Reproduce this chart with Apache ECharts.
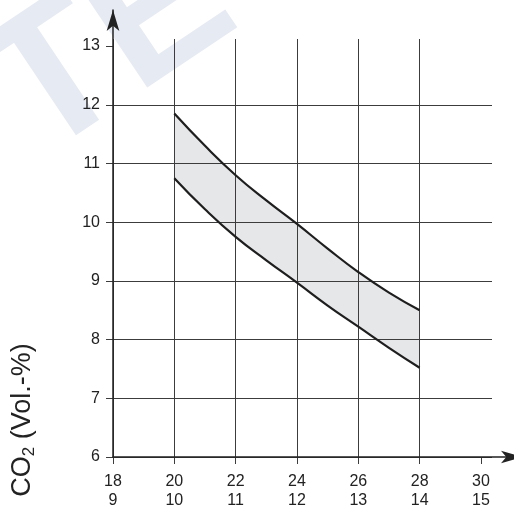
<!DOCTYPE html>
<html>
<head>
<meta charset="utf-8">
<script src="https://cdn.jsdelivr.net/npm/echarts@6/dist/echarts.min.js"></script>
<style>
html, body { margin: 0; padding: 0; background: #fff; }
#main { width: 514px; height: 506px; }
</style>
</head>
<body>
<div id="main"></div>
<script>
// tick labels (lower row of x labels is the second scale)
var xTicks = [18, 20, 22, 24, 26, 28, 30];
var xTicks2 = [9, 10, 11, 12, 13, 14, 15];
var yTicks = [6, 7, 8, 9, 10, 11, 12, 13];
// band limits
var xValues = [20, 21, 22, 23, 24, 25, 26, 27, 28];
var upperCO2 = [11.85, 11.3, 10.8, 10.37, 9.97, 9.55, 9.15, 8.8, 8.5];
var lowerCO2 = [10.75, 10.22, 9.75, 9.35, 8.97, 8.58, 8.22, 7.86, 7.52];

var myChart = echarts.init(document.getElementById('main'), null, { renderer: 'canvas' });
var font = '"Liberation Sans", Arial, sans-serif';

var upperData = [], lowerData = [];
for (var i = 0; i < xValues.length; i++) {
    upperData.push([xValues[i], upperCO2[i]]);
    lowerData.push([xValues[i], lowerCO2[i]]);
}

var gridColor = '#3c3c3c';

option = {
    backgroundColor: '#fff',
    animation: false,
    graphic: [
        // faint watermark in the corner
        {
            type: 'text',
            x: 9, y: 116,
            rotation: 0.59,
            z: -10,
            silent: true,
            style: {
                text: 'TE',
                font: 'bold 193px ' + font,
                fill: '#e6eaf3',
                textAlign: 'left', align: 'left',
                textVerticalAlign: 'middle', verticalAlign: 'middle'
            }
        },
        {
            type: 'text',
            x: 23, y: 420,
            rotation: Math.PI / 2,
            style: {
                text: '{a|CO}{b|2}{a| (Vol.-%)}',
                textAlign: 'center', align: 'center',
                textVerticalAlign: 'middle', verticalAlign: 'middle',
                fill: '#222',
                rich: {
                    a: { fontSize: 27, lineHeight: 30, fontFamily: font, fill: '#222', color: '#222' },
                    b: { fontSize: 17, lineHeight: 16, fontFamily: font, fill: '#222', color: '#222', verticalAlign: 'bottom' }
                }
            }
        }
    ],
    grid: [
        { left: 113, right: 22, top: 39, bottom: 49, outerBoundsMode: 'none' },
        { left: 113, right: -8, top: 10, bottom: 49, outerBoundsMode: 'none' }
    ],
    xAxis: [
        {
            type: 'value', gridIndex: 0, z: 3,
            min: 18, max: 30.36, interval: 2,
            axisLine: { show: false, onZero: false },
            axisTick: { show: true, customValues: xTicks, length: 7, lineStyle: { color: gridColor } },
            axisLabel: {
                customValues: xTicks,
                margin: 15,
                fontSize: 16, lineHeight: 19, fontFamily: font, color: '#222',
                formatter: function (v) {
                    var k = xTicks.indexOf(v);
                    return v + '\n' + (k >= 0 ? xTicks2[k] : '');
                }
            },
            splitLine: { show: true, showMaxLine: false, lineStyle: { color: gridColor, width: 1 } }
        },
        {
            type: 'value', gridIndex: 1, min: 0, max: 1, z: 6,
            axisLine: { show: true, onZero: false, symbol: ['none', 'arrow'], symbolSize: [9.5, 21], lineStyle: { color: '#222', width: 1.5 } },
            axisTick: { show: false }, axisLabel: { show: false }, splitLine: { show: false }
        }
    ],
    yAxis: [
        {
            type: 'value', gridIndex: 0, z: 3,
            min: 6, max: 13.12, interval: 1,
            axisLine: { show: false, onZero: false },
            axisTick: { show: true, customValues: yTicks, length: 7, lineStyle: { color: gridColor } },
            axisLabel: { customValues: yTicks, margin: 13, fontSize: 16, fontFamily: font, color: '#222' },
            splitLine: { show: true, showMaxLine: false, lineStyle: { color: gridColor, width: 1 } }
        },
        {
            type: 'value', gridIndex: 1, min: 0, max: 1, z: 6,
            axisLine: { show: true, onZero: false, symbol: ['none', 'arrow'], symbolSize: [9.5, 21], lineStyle: { color: '#222', width: 1.5 } },
            axisTick: { show: false }, axisLabel: { show: false }, splitLine: { show: false }
        }
    ],
    series: [
        // grey fill down from the upper curve, then white fill below the lower curve
        {
            name: 'upperFill', type: 'line', data: upperData, z: 1,
            symbol: 'none', smooth: true, silent: true,
            lineStyle: { opacity: 0 },
            areaStyle: { color: '#e6e7e9', opacity: 1, origin: 'start' }
        },
        {
            name: 'lowerFill', type: 'line', data: lowerData, z: 1,
            symbol: 'none', smooth: true, silent: true,
            lineStyle: { opacity: 0 },
            areaStyle: { color: '#ffffff', opacity: 1, origin: 'start' }
        },
        {
            name: 'upper', type: 'line', data: upperData,
            symbol: 'none', smooth: true, z: 5,
            lineStyle: { color: '#1e1e1e', width: 2.2 }
        },
        {
            name: 'lower', type: 'line', data: lowerData,
            symbol: 'none', smooth: true, z: 5,
            lineStyle: { color: '#1e1e1e', width: 2.2 }
        }
    ]
};

myChart.setOption(option);
</script>
</body>
</html>
